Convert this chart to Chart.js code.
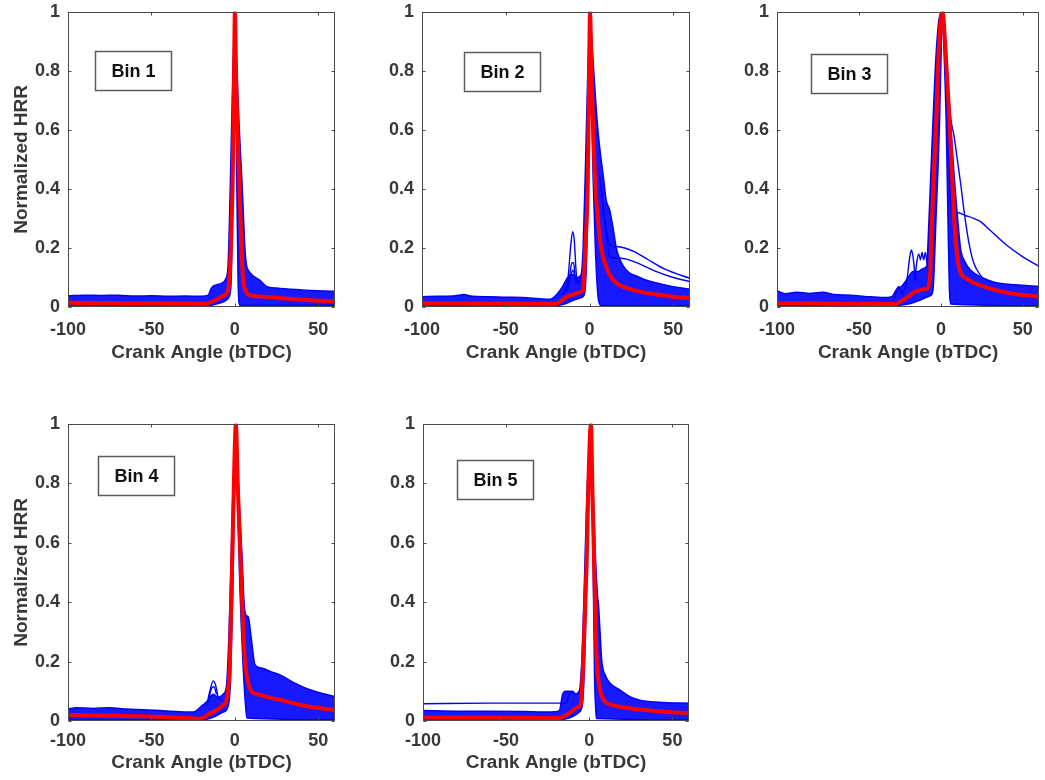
<!DOCTYPE html>
<html>
<head>
<meta charset="utf-8">
<script src="https://cdn.jsdelivr.net/npm/chart.js@4.4.0/dist/chart.umd.min.js"></script>
<style>
html, body { margin: 0; padding: 0; background: #fff; }
body { width: 1045px; height: 780px; position: relative; overflow: hidden; }
canvas { position: absolute; }
</style>
</head>
<body>
<canvas id="c1"></canvas>
<canvas id="c2"></canvas>
<canvas id="c3"></canvas>
<canvas id="c4"></canvas>
<canvas id="c5"></canvas>
<script>
// axis ticks
const crankTicks = [-100, -50, 0, 50];
const hrrTicks = [0, 0.2, 0.4, 0.6, 0.8, 1];
const binNames = ['Bin 1', 'Bin 2', 'Bin 3', 'Bin 4', 'Bin 5'];

// ---- Bin 1 ----  [crank angle, normalized HRR]
const bin1Mean = [[-100,0.014],[-60,0.013],[-30,0.012],[-17,0.011],[-14,0.017],[-10,0.028],[-7,0.038],[-4.7,0.048],[-3.3,0.09],[-2.3,0.22],[-1.3,0.43],[-0.6,0.72],[0,1],[0.8,0.76],[1.6,0.6],[2.6,0.43],[3.8,0.22],[5,0.09],[6.5,0.055],[8,0.042],[15,0.036],[30,0.029],[45,0.023],[60,0.019]];
const bin1LeftUpper = [[-100,0.038],[-90,0.04],[-80,0.039],[-70,0.04],[-60,0.037],[-50,0.038],[-40,0.036],[-30,0.037],[-20,0.036],[-16,0.04],[-14,0.065],[-11,0.075],[-8,0.08],[-5.5,0.095],[-4.2,0.13],[-3.2,0.3],[-2.2,0.55],[-1.1,0.82],[0,1]];
const bin1LeftLower = [[-100,0.002],[-60,0.002],[-20,0.002],[-15,0.004],[-10,0.012],[-6,0.02],[-4,0.03],[-2.5,0.06],[-1.6,0.25],[-0.8,0.6],[0,1]];
const bin1RightUpper = [[0,1],[1.2,0.8],[2.5,0.62],[4.2,0.43],[5.2,0.3],[6,0.2],[7,0.14],[8,0.125],[10,0.11],[15,0.09],[19,0.07],[25,0.064],[40,0.058],[60,0.053]];
const bin1RightLower = [[0,1],[0.7,0.7],[1.3,0.35],[1.9,0.1],[2.4,0.02],[3,0.006],[60,0.006]];

// ---- Bin 2 ----
const bin2Mean = [[-100,0.013],[-60,0.012],[-30,0.011],[-20,0.011],[-17,0.02],[-13.6,0.035],[-9.7,0.042],[-5.7,0.05],[-3.7,0.06],[-2.5,0.2],[-1,0.43],[-0.3,0.75],[0.3,1],[1.2,0.8],[2.2,0.6],[3.3,0.43],[5,0.3],[7,0.2],[9.3,0.148],[12,0.11],[16.2,0.08],[22,0.065],[30,0.052],[40,0.042],[50,0.035],[60,0.03]];
const bin2LeftUpper = [[-100,0.035],[-90,0.036],[-80,0.038],[-75,0.042],[-70,0.036],[-60,0.035],[-50,0.033],[-40,0.032],[-30,0.028],[-24,0.026],[-20,0.04],[-16,0.07],[-13,0.1],[-10,0.11],[-7,0.1],[-5,0.11],[-3.8,0.2],[-2.3,0.5],[-1,0.8],[0.3,1]];
const bin2LeftLower = [[-100,0.002],[-40,0.002],[-22,0.003],[-15,0.01],[-10,0.022],[-6,0.03],[-3.2,0.04],[-2,0.12],[-0.9,0.4],[-0.2,0.75],[0.3,1]];
const bin2RightUpper = [[0.3,1],[2.5,0.8],[5,0.6],[8.5,0.43],[10,0.36],[12,0.33],[14,0.27],[16,0.2],[20,0.14],[30,0.1],[45,0.075],[60,0.06]];
const bin2RightLower = [[0.3,1],[1.2,0.7],[2.2,0.43],[3.5,0.2],[4.5,0.08],[5.5,0.02],[7,0.005],[60,0.005]];
const bin2BumpHigh = [[-16,0.04],[-13,0.09],[-11,0.22],[-10,0.255],[-9,0.22],[-8,0.12],[-7,0.08],[-5,0.1]];
const bin2BumpMid = [[-14,0.05],[-12,0.1],[-10.5,0.15],[-9.5,0.15],[-8.5,0.1],[-7,0.09]];
const bin2BumpLow = [[-13,0.06],[-11,0.11],[-10,0.125],[-9,0.11],[-8,0.08]];
const bin2TailA = [[6,0.45],[9,0.3],[12,0.21],[16,0.205],[21,0.2],[27,0.187],[35,0.16],[45,0.128],[60,0.097]];
const bin2TailB = [[7,0.4],[10,0.25],[12,0.17],[16,0.166],[22,0.162],[28,0.15],[40,0.12],[50,0.1],[60,0.086]];

// ---- Bin 3 ----
const bin3Mean = [[-100,0.013],[-60,0.011],[-35,0.01],[-28,0.01],[-24,0.02],[-20,0.035],[-15.8,0.052],[-12,0.058],[-9.8,0.06],[-8,0.065],[-6.5,0.12],[-5.8,0.24],[-4.3,0.45],[-2.8,0.634],[-1.5,0.85],[0,0.98],[1,1],[2.5,0.9],[4,0.75],[5.2,0.634],[7,0.42],[8.8,0.238],[10.5,0.15],[12.2,0.114],[16,0.095],[20,0.082],[26.2,0.069],[35,0.055],[45,0.044],[60,0.035]];
const bin3LeftUpper = [[-100,0.055],[-95,0.045],[-88,0.05],[-80,0.046],[-72,0.05],[-65,0.042],[-55,0.04],[-45,0.035],[-35,0.032],[-30,0.035],[-27,0.06],[-24,0.07],[-20,0.1],[-17,0.12],[-14,0.12],[-11,0.13],[-8.5,0.14],[-8,0.2],[-6.5,0.4],[-4.8,0.634],[-3,0.85],[-1,0.98],[1,1]];
const bin3LeftLower = [[-100,0.003],[-40,0.003],[-30,0.004],[-20,0.01],[-12,0.025],[-8,0.035],[-6,0.04],[-4.8,0.06],[-3,0.3],[-0.8,0.634],[0.3,0.9],[1,1]];
const bin3RightUpper = [[1,1],[3,0.88],[5.8,0.634],[8,0.45],[11.2,0.238],[12.2,0.19],[15,0.15],[18,0.125],[25,0.1],[32,0.085],[45,0.075],[60,0.07]];
const bin3RightLower = [[1,1],[2,0.85],[3.2,0.634],[4.3,0.3],[5.2,0.06],[6,0.01],[60,0.004]];
const bin3BumpA = [[-24,0.04],[-21,0.08],[-19,0.17],[-18,0.193],[-17,0.17],[-15.5,0.1],[-14,0.09]];
const bin3BumpB = [[-16,0.09],[-14.5,0.16],[-13.5,0.18],[-12.5,0.16],[-11.5,0.185],[-10.5,0.16],[-9.5,0.185],[-8.5,0.15],[-7.5,0.12]];
const bin3BumpC = [[-28,0.03],[-26.5,0.065],[-25.5,0.07],[-24.5,0.05],[-22,0.06]];
const bin3WideCycle = [[1,1],[3,0.85],[6,0.64],[8,0.58],[10,0.5],[12,0.42],[14,0.33],[17,0.22],[20,0.15],[25,0.1]];
const bin3TailOutlier = [[1,1],[3,0.82],[5,0.5],[6.3,0.325],[10,0.32],[15,0.31],[20,0.3],[24,0.29],[30,0.26],[40,0.21],[50,0.17],[60,0.137]];

// ---- Bin 4 ----
const bin4Mean = [[-100,0.02],[-80,0.018],[-60,0.016],[-40,0.013],[-23,0.008],[-21,0.008],[-15,0.025],[-10,0.04],[-7,0.054],[-5,0.07],[-3,0.205],[-1.6,0.542],[-0.6,0.8],[0.6,1],[1.8,0.78],[3.4,0.542],[4.7,0.35],[6,0.205],[8,0.13],[10,0.099],[15,0.088],[20,0.08],[27,0.071],[35,0.06],[45,0.048],[60,0.037]];
const bin4LeftUpper = [[-100,0.04],[-95,0.045],[-85,0.042],[-75,0.045],[-65,0.04],[-55,0.038],[-45,0.035],[-35,0.032],[-25,0.03],[-20,0.05],[-16,0.07],[-13,0.09],[-10,0.08],[-7,0.09],[-5,0.12],[-3.5,0.3],[-2.2,0.55],[-1,0.8],[0.6,1]];
const bin4LeftLower = [[-100,0.003],[-40,0.003],[-25,0.002],[-18,0.004],[-12,0.015],[-7,0.03],[-4,0.05],[-2.5,0.15],[-1.2,0.45],[-0.2,0.8],[0.6,1]];
const bin4RightUpper = [[0.6,1],[2.5,0.75],[4.4,0.542],[5.5,0.4],[6.5,0.357],[8,0.35],[10,0.27],[12,0.19],[16,0.178],[22,0.165],[27,0.155],[35,0.13],[45,0.105],[60,0.082]];
const bin4RightLower = [[0.6,1],[1.6,0.75],[3,0.45],[4.8,0.2],[6.3,0.06],[7.2,0.01],[60,0.004]];
const bin4Bump = [[-17,0.05],[-15,0.1],[-13,0.135],[-11.5,0.12],[-10,0.08],[-8,0.07]];
const bin4Bump2 = [[-16,0.06],[-14,0.11],[-12.5,0.115],[-11,0.09]];

// ---- Bin 5 ----
const bin5Mean = [[-100,0.012],[-60,0.011],[-30,0.01],[-17.6,0.01],[-15.6,0.015],[-11,0.03],[-6.6,0.048],[-5,0.06],[-3.6,0.205],[-2.4,0.4],[-1.5,0.542],[-0.5,0.8],[1,1],[2,0.75],[2.9,0.542],[3.7,0.35],[4.5,0.205],[6,0.12],[7.5,0.085],[9.5,0.065],[15,0.052],[24.5,0.043],[35,0.036],[45,0.031],[60,0.026]];
const bin5LeftUpper = [[-100,0.035],[-80,0.033],[-60,0.033],[-40,0.032],[-25,0.03],[-18,0.035],[-16,0.09],[-14,0.1],[-11,0.1],[-8,0.09],[-6,0.1],[-4.5,0.2],[-3,0.45],[-1.5,0.75],[1,1]];
const bin5LeftLower = [[-100,0.003],[-40,0.003],[-20,0.003],[-15,0.006],[-10,0.015],[-6,0.03],[-4,0.06],[-2.5,0.25],[-1,0.6],[0,0.85],[1,1]];
const bin5RightUpper = [[1,1],[2.5,0.75],[3.8,0.542],[5,0.42],[5.5,0.396],[6.5,0.3],[7.5,0.205],[10,0.15],[12.5,0.127],[18.5,0.104],[25,0.08],[30.5,0.07],[45,0.062],[60,0.06]];
const bin5RightLower = [[1,1],[1.8,0.75],[2.5,0.45],[3.2,0.15],[4,0.03],[4.5,0.008],[60,0.004]];
const bin5FlatOutlier = [[-100,0.058],[-60,0.06],[-30,0.06],[-14,0.06],[-12,0.09],[-10,0.1],[-8,0.09],[-6,0.1]];

const bins = [
  { mean: bin1Mean, bands: [[bin1LeftUpper, bin1LeftLower], [bin1RightUpper, bin1RightLower]], cycles: [] },
  { mean: bin2Mean, bands: [[bin2LeftUpper, bin2LeftLower], [bin2RightUpper, bin2RightLower]], cycles: [bin2BumpHigh, bin2BumpMid, bin2BumpLow, bin2TailA, bin2TailB] },
  { mean: bin3Mean, bands: [[bin3LeftUpper, bin3LeftLower], [bin3RightUpper, bin3RightLower]], cycles: [bin3BumpA, bin3BumpB, bin3BumpC, bin3WideCycle, bin3TailOutlier] },
  { mean: bin4Mean, bands: [[bin4LeftUpper, bin4LeftLower], [bin4RightUpper, bin4RightLower]], cycles: [bin4Bump, bin4Bump2] },
  { mean: bin5Mean, bands: [[bin5LeftUpper, bin5LeftLower], [bin5RightUpper, bin5RightLower]], cycles: [bin5FlatOutlier] }
];

// panel layout (pixels): plotTop is where the axes box starts on the page
const panels = [
  { id: 'c1', left: 0,   plotTop: 12,  yw: 68, pw: 267, ph: 295, padR: 10, xh: 60, tickPad: 12, titlePad: 3, yTitle: true,  box: [27, 39] },
  { id: 'c2', left: 350, plotTop: 12,  yw: 72, pw: 268, ph: 295, padR: 10, xh: 60, tickPad: 12, titlePad: 3, yTitle: false, box: [42, 40] },
  { id: 'c3', left: 705, plotTop: 12,  yw: 72, pw: 266, ph: 295, padR: 2,  xh: 60, tickPad: 12, titlePad: 3, yTitle: false, box: [34, 42] },
  { id: 'c4', left: 0,   plotTop: 424, yw: 68, pw: 267, ph: 297, padR: 10, xh: 56, tickPad: 9,  titlePad: 3, yTitle: true,  box: [30, 32] },
  { id: 'c5', left: 351, plotTop: 424, yw: 72, pw: 266, ph: 297, padR: 10, xh: 56, tickPad: 9,  titlePad: 3, yTitle: false, box: [34, 36] }
];
const TOP_RESERVE = 19; // room Chart.js keeps above the axes for the "1" tick label

const FONT = "'Liberation Sans', Arial, sans-serif";
const TEXT = '#383838';

const pts = arr => arr.map(p => ({ x: p[0], y: p[1] }));

const framePlugin = {
  id: 'frame',
  afterDatasetsDraw(chart) {
    const { ctx, chartArea: a, scales: { x, y } } = chart;
    const l = Math.round(a.left) + 0.5, r = Math.round(a.right) - 0.5;
    const t = Math.round(a.top) + 0.5, b = Math.round(a.bottom) - 0.5;
    ctx.save();
    ctx.strokeStyle = '#4a4a4a';
    ctx.lineWidth = 1;
    ctx.strokeRect(l, t, r - l, b - t);
    ctx.beginPath();
    crankTicks.forEach(v => {
      const px = Math.round(x.getPixelForValue(v)) + 0.5;
      ctx.moveTo(px, b); ctx.lineTo(px, b - 3);
      ctx.moveTo(px, t); ctx.lineTo(px, t + 3);
    });
    hrrTicks.forEach(v => {
      const py = Math.round(y.getPixelForValue(v)) + 0.5;
      ctx.moveTo(l, py); ctx.lineTo(l + 3, py);
      ctx.moveTo(r, py); ctx.lineTo(r - 3, py);
    });
    ctx.stroke();
    ctx.restore();
  }
};

const labelPlugin = {
  id: 'binLabel',
  afterDraw(chart, args, opts) {
    const { ctx, chartArea: a } = chart;
    const bx = Math.round(a.left + opts.dx) + 0.5, by = Math.round(a.top + opts.dy) + 0.5;
    const w = 76, h = 39;
    ctx.save();
    ctx.fillStyle = '#fff';
    ctx.fillRect(bx, by, w, h);
    ctx.strokeStyle = '#5c5c5c';
    ctx.lineWidth = 1.5;
    ctx.strokeRect(bx, by, w, h);
    ctx.fillStyle = '#111';
    ctx.font = 'bold 18px ' + FONT;
    ctx.textAlign = 'center';
    ctx.textBaseline = 'middle';
    ctx.fillText(opts.text, bx + w / 2, by + h / 2 + 1);
    ctx.restore();
  }
};

panels.forEach((p, i) => {
  const bin = bins[i];
  const w = p.yw + p.pw + p.padR;
  const h = TOP_RESERVE + p.ph + p.xh;
  const cv = document.getElementById(p.id);
  cv.width = w; cv.height = h;
  cv.style.left = p.left + 'px';
  cv.style.top = (p.plotTop - TOP_RESERVE) + 'px';
  cv.style.width = w + 'px';
  cv.style.height = h + 'px';

  const line = { showLine: true, pointRadius: 0, cubicInterpolationMode: 'monotone', fill: false };
  const datasets = [];
  datasets.push(Object.assign({}, line, { data: pts(bin.mean), borderColor: '#ff0000', borderWidth: 4, order: 0 }));
  bin.cycles.forEach(c => datasets.push(Object.assign({}, line, { data: pts(c), borderColor: '#0000ff', borderWidth: 1.4, order: 1 })));
  bin.bands.forEach(([upper, lower]) => {
    datasets.push(Object.assign({}, line, { data: pts(upper), borderColor: '#0000ff', borderWidth: 1.5, backgroundColor: 'rgba(0,0,255,0.9)', fill: '+1', order: 2 }));
    datasets.push(Object.assign({}, line, { data: pts(lower), borderColor: '#0000ff', borderWidth: 1.5, order: 2 }));
  });

  new Chart(cv.getContext('2d'), {
    type: 'scatter',
    data: { datasets },
    options: {
      responsive: false,
      animation: false,
      layout: { padding: { top: 0, right: p.padR, left: 0, bottom: 0 } },
      plugins: {
        legend: { display: false },
        tooltip: { enabled: false },
        binLabel: { text: binNames[i], dx: p.box[0], dy: p.box[1] }
      },
      scales: {
        x: {
          type: 'linear', min: -100, max: 60,
          afterFit: s => { s.height = p.xh; },
          afterBuildTicks: s => { s.ticks = crankTicks.map(v => ({ value: v })); },
          grid: { display: false, drawTicks: false },
          border: { display: false },
          ticks: { padding: p.tickPad, color: TEXT, font: { family: FONT, size: 18, weight: 'bold' }, maxRotation: 0, autoSkip: false, callback: v => String(v) },
          title: { display: true, text: 'Crank Angle (bTDC)', color: TEXT, font: { family: FONT, size: 19, weight: 'bold' }, padding: { top: 0, bottom: p.titlePad } }
        },
        y: {
          type: 'linear', min: 0, max: 1,
          afterFit: s => { s.width = p.yw; },
          afterBuildTicks: s => { s.ticks = hrrTicks.map(v => ({ value: v })); },
          grid: { display: false, drawTicks: false },
          border: { display: false },
          ticks: { padding: 8, color: TEXT, font: { family: FONT, size: 18, weight: 'bold' }, callback: v => String(v) },
          title: { display: p.yTitle, text: 'Normalized HRR', color: TEXT, font: { family: FONT, size: 19, weight: 'bold' }, padding: { top: 10, bottom: 0 } }
        }
      }
    },
    plugins: [framePlugin, labelPlugin]
  });
});
</script>
</body>
</html>
